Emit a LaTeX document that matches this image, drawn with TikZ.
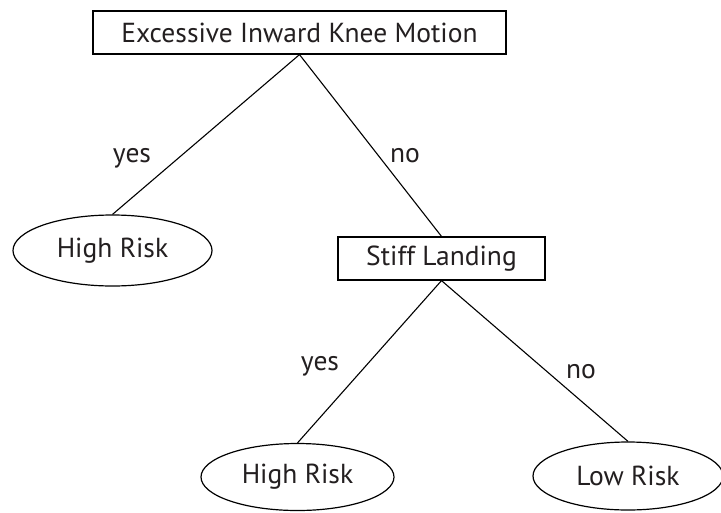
\documentclass[tikz,border=0pt]{standalone}
\usepackage{fontspec}
\setmainfont{PT Sans}
\usetikzlibrary{shapes.geometric}
\definecolor{txt}{RGB}{35,31,32}
\begin{document}
\begin{tikzpicture}[x=1pt,y=-1pt,
  box/.style={draw=black,line width=1.2pt,rectangle,inner sep=0pt,text=txt,font=\fontsize{27.5}{30}\selectfont},
  oval/.style={draw=black,line width=1.2pt,ellipse,inner sep=0pt,text=txt,font=\fontsize{27.5}{30}\selectfont},
  lbl/.style={anchor=base,inner sep=0pt,text=txt,font=\fontsize{27.5}{30}\selectfont},
  conn/.style={draw=black,line width=1.1pt}]
\useasboundingbox (0,0) rectangle (721,512);
\fill[white] (0,0) rectangle (721,512);
\node[box,minimum width=413pt,minimum height=43pt] (top) at (299.5,32.5) {Excessive Inward Knee Motion};
\node[oval,minimum width=199pt,minimum height=71pt] (hr1) at (112.5,250.5) {High Risk};
\node[box,minimum width=207pt,minimum height=43pt] (stiff) at (441.5,258.5) {Stiff Landing};
\node[oval,minimum width=193pt,minimum height=67pt] (hr2) at (297.5,477) {High Risk};
\node[oval,minimum width=190pt,minimum height=68pt] (lr) at (628,476) {Low Risk};
\draw[conn] (top.south) -- (hr1.north);
\draw[conn] (top.south) -- (stiff.north);
\draw[conn] (stiff.south) -- (hr2.north);
\draw[conn] (stiff.south) -- (lr.north);
\node[lbl] (yes1) at (132,162) {yes};
\node[lbl] (no1) at (405,162) {no};
\node[lbl] (yes2) at (320,370) {yes};
\node[lbl] (no2) at (581,378) {no};
\end{tikzpicture}
\end{document}
